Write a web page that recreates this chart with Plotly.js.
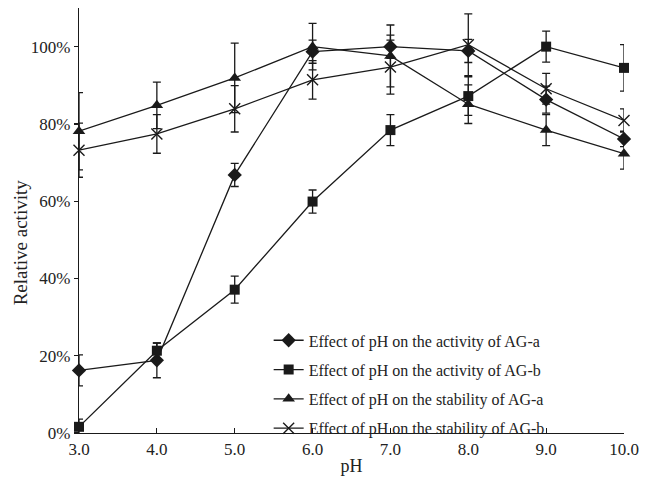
<!DOCTYPE html>
<html>
<head>
<meta charset="utf-8">
<script src="https://cdn.plot.ly/plotly-3.0.1.min.js"></script>
<style>html,body{margin:0;padding:0;background:#fff}#chart{width:650px;height:479px}</style>
</head>
<body>
<div id="chart"></div>
<script>
const pH = [3, 4, 5, 6, 7, 8, 9, 10];

const actA = [16.2, 18.8, 66.8, 98.7, 100, 98.9, 86.3, 76.1];
const actAErr = [4, 4.5, 3, 3, 3, 3, 3.5, 2];

const actB = [1.6, 21.3, 37.1, 59.9, 78.4, 87.2, 100, 94.5];
const actBErr = [2, 2, 3.5, 3, 4, 5, 4, 6];

const stabA = [78.1, 84.8, 91.9, 100, 97.6, 85.1, 78.4, 72.3];
const stabAErr = [10, 6, 9, 6, 8, 5, 4, 4];

const stabB = [73.2, 77.4, 83.9, 91.4, 94.7, 100.5, 89.1, 80.9];
const stabBErr = [7, 5, 6, 5, 7, 8, 4, 3];

const names = [
  "Effect of pH on the activity of AG-a",
  "Effect of pH on the activity of AG-b",
  "Effect of pH on the stability of AG-a",
  "Effect of pH on the stability of AG-b"
];

const ink = "#1a1a1a";
function mk(y, err, name, symbol, size, group) {
  const open = symbol.indexOf("open") >= 0;
  return {
    x: pH, y: y, name: name, type: "scatter", mode: "lines+markers",
    legendgroup: group,
    cliponaxis: false,
    line: {color: ink, width: 1.3},
    marker: {symbol: symbol, size: size, color: ink,
             line: {color: ink, width: open ? 1.4 : 0}},
    error_y: {type: "data", array: err, visible: true, color: ink, thickness: 1.3, width: 4}
  };
}

const data = [
  mk(actA, actAErr, names[0], "diamond", 11, "g1"),
  mk(actB, actBErr, names[1], "square", 10, "g2"),
  mk(stabA, stabAErr, names[2], "triangle-up", 11, "g3"),
  mk(stabB, stabBErr, names[3], "x-thin-open", 11, "g4")
];

const fam = "Liberation Serif, Times New Roman, serif";
const txt = "#222";

const layout = {
  width: 650, height: 479,
  margin: {l: 79, r: 26, t: 8, b: 46},
  paper_bgcolor: "#fff", plot_bgcolor: "#fff",
  font: {family: fam, size: 16, color: txt},
  showlegend: true,
  legend: {
    x: 0.348, y: 0.258, xanchor: "left", yanchor: "top",
    bgcolor: "rgba(0,0,0,0)", borderwidth: 0,
    font: {family: fam, size: 16, color: txt},
    traceorder: "grouped", tracegroupgap: 5.5
  },
  xaxis: {
    range: [3, 10], dtick: 1, tickformat: ".1f",
    showgrid: false, zeroline: false,
    showline: true, linecolor: ink, linewidth: 1.3,
    ticks: "inside", ticklen: 5, tickcolor: ink, tickwidth: 1.2,
    tickfont: {family: fam, size: 17, color: txt},
    title: {text: "pH", font: {family: fam, size: 18, color: txt}, standoff: 1}
  },
  yaxis: {
    range: [0, 110], tickvals: [0, 20, 40, 60, 80, 100],
    ticktext: ["0%", "20%", "40%", "60%", "80%", "100%"],
    showgrid: false, zeroline: false,
    showline: true, linecolor: ink, linewidth: 1.3,
    ticks: "outside", ticklen: 4, tickcolor: ink, tickwidth: 1.2,
    tickfont: {family: fam, size: 17, color: txt}
  },
  annotations: [{
    text: "Relative activity", textangle: -90,
    xref: "paper", yref: "paper", x: -0.108, y: 0.449,
    xanchor: "center", yanchor: "middle", showarrow: false,
    font: {family: fam, size: 19, color: txt}
  }]
};

Plotly.newPlot("chart", data, layout, {displayModeBar: false, staticPlot: true});
</script>
</body>
</html>
